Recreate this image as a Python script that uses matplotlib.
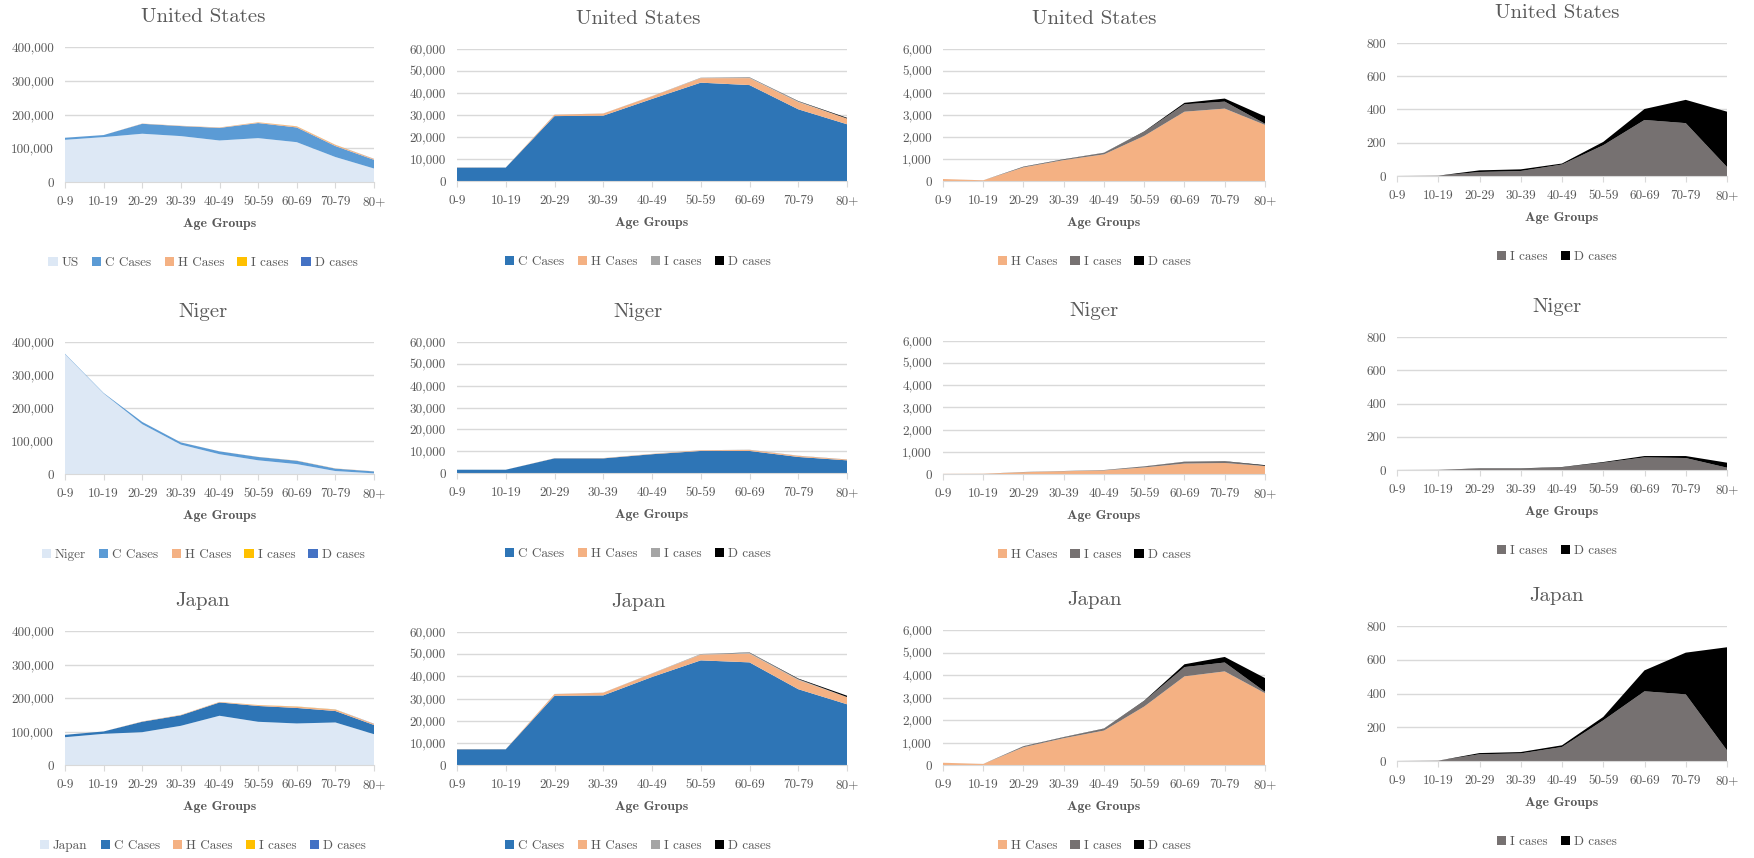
import matplotlib
matplotlib.use("Agg")
import matplotlib.pyplot as plt
from matplotlib.ticker import FuncFormatter

plt.rcParams['font.family'] = ['cmr10', 'DejaVu Serif']
plt.rcParams['axes.formatter.use_mathtext'] = True

ages = ['0-9', '10-19', '20-29', '30-39', '40-49', '50-59', '60-69', '70-79', '80+']

# United States
us_pop = [125000, 133000, 143000, 136000, 123000, 130000, 118000, 74000, 40000]
us_c = [6100, 6100, 29500, 29700, 37300, 44700, 43600, 32600, 25800]
us_h = [90, 30, 620, 950, 1210, 2050, 3150, 3290, 2550]
us_i = [0, 2, 24, 30, 69, 185, 337, 318, 54]
us_d = [0, 0, 10, 10, 6, 20, 66, 140, 333]

# Niger
niger_pop = [363000, 244000, 151000, 89000, 60000, 41500, 30000, 9000, 2000]
niger_c = [1500, 1500, 6700, 6700, 8600, 10100, 10100, 7350, 5800]
niger_h = [5, 10, 80, 125, 162, 297, 471, 496, 356]
niger_i = [0, 1, 8, 8, 16, 44, 76, 72, 14]
niger_d = [0, 0, 2, 2, 2, 4, 8, 12, 30]

# Japan
japan_pop = [83000, 93000, 98000, 117000, 147000, 129000, 124000, 127000, 92000]
japan_c = [7100, 7100, 31200, 31400, 39700, 47200, 46300, 34200, 27400]
japan_h = [100, 45, 790, 1190, 1530, 2600, 3940, 4160, 3190]
japan_i = [0, 2, 40, 45, 83, 241, 413, 395, 63]
japan_d = [0, 0, 7, 8, 10, 20, 124, 247, 611]

countries = [
    ('United States', 'US', us_pop, us_c, us_h, us_i, us_d, '#5b9bd5'),
    ('Niger', 'Niger', niger_pop, niger_c, niger_h, niger_i, niger_d, '#5b9bd5'),
    ('Japan', 'Japan', japan_pop, japan_c, japan_h, japan_i, japan_d, '#2e75b6'),
]

TXT = '#595959'
GRID = '#d9d9d9'
W, H = 1754, 858

# layout in pixels: plot-area x ranges per column, y ranges per row/column
col_x = [(65, 374), (457, 847), (943, 1265), (1397, 1727)]
chart_cx = [203, 638, 1094, 1557]
row_y = [
    [(47, 182), (49, 181), (49, 181), (43, 176)],
    [(342, 474), (342, 473), (341, 474), (337, 470)],
    [(631, 765), (632, 765), (630, 765), (626, 761)],
]
y_scales = [(400000, 100000), (60000, 10000), (6000, 1000), (800, 200)]

fig = plt.figure(figsize=(W / 100, H / 100), dpi=100)


def draw_panel(r, c, title, series, labels, colors):
    x0, x1 = col_x[c]
    y0, y1 = row_y[r][c]
    ax = fig.add_axes([x0 / W, 1 - y1 / H, (x1 - x0) / W, (y1 - y0) / H])
    ymax, step = y_scales[c]
    x = list(range(len(ages)))
    ax.stackplot(x, *series, colors=colors, labels=labels, linewidth=0)
    ax.set_xlim(0, len(ages) - 1)
    ax.set_ylim(0, ymax)
    ax.set_yticks(range(0, ymax + 1, step))
    ax.yaxis.set_major_formatter(FuncFormatter(lambda v, p: f'{v:,.0f}'))
    ax.set_xticks(x)
    ax.set_xticklabels(ages)
    ax.grid(axis='y', color=GRID, lw=1)
    ax.set_axisbelow(True)
    for s in ['top', 'left', 'right']:
        ax.spines[s].set_visible(False)
    ax.spines['bottom'].set_color(GRID)
    ax.tick_params(axis='x', length=4, color=GRID, labelsize=9.5, labelcolor=TXT, pad=6)
    ax.tick_params(axis='y', length=0, labelsize=9.5, labelcolor=TXT, pad=8)
    ax.set_xlabel('Age Groups', family=['cmb10', 'DejaVu Serif'], fontsize=10, color=TXT, labelpad=7)
    fig.text(chart_cx[c] / W, 1 - (y0 - 30) / H, title, ha='center', va='center',
             fontsize=15, color=TXT)
    ax.legend(loc='center', bbox_to_anchor=(chart_cx[c] / W, 1 - (y1 + 81) / H),
              bbox_transform=fig.transFigure, ncol=len(labels), frameon=False,
              fontsize=9.5, labelcolor=TXT, handlelength=0.7, handleheight=0.7,
              handletextpad=0.3, columnspacing=1.0)
    return ax


for r, (name, short, pop, cc, hh, ii, dd, ccol) in enumerate(countries):
    draw_panel(r, 0, name, [pop, cc, hh, ii, dd],
               [short, 'C Cases', 'H Cases', 'I cases', 'D cases'],
               ['#dde8f5', ccol, '#f4b183', '#ffc000', '#4472c4'])
    draw_panel(r, 1, name, [cc, hh, ii, dd],
               ['C Cases', 'H Cases', 'I cases', 'D cases'],
               ['#2e75b6', '#f4b183', '#a5a5a5', '#000000'])
    draw_panel(r, 2, name, [hh, ii, dd],
               ['H Cases', 'I cases', 'D cases'],
               ['#f4b183', '#767171', '#000000'])
    draw_panel(r, 3, name, [ii, dd],
               ['I cases', 'D cases'],
               ['#767171', '#000000'])

fig.savefig('out.png', dpi=100, facecolor='white')
